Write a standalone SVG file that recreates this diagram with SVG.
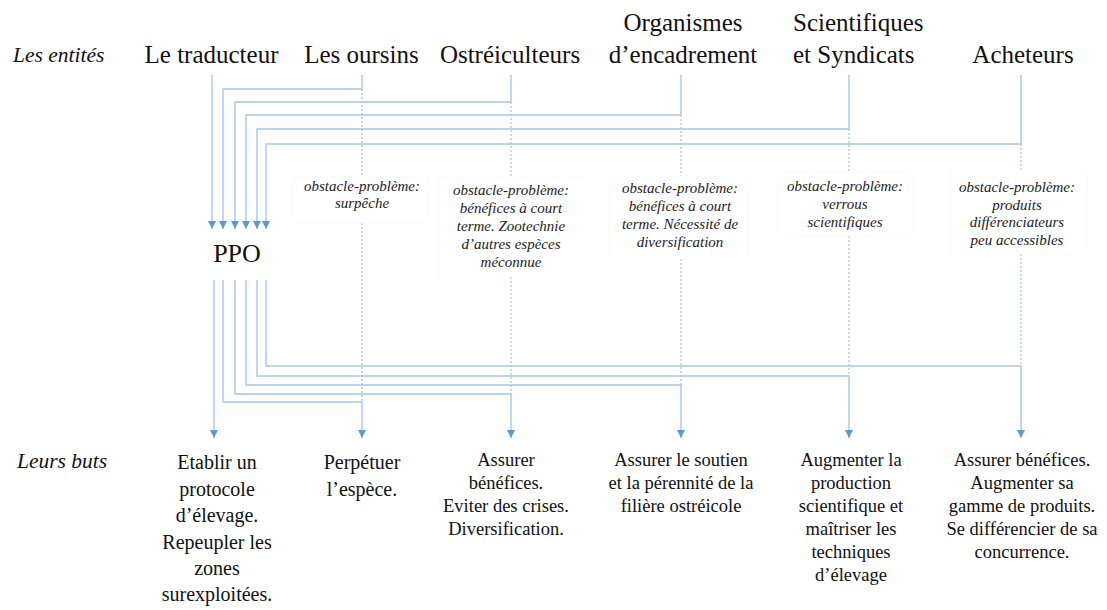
<svg xmlns="http://www.w3.org/2000/svg" width="1107" height="610" viewBox="0 0 1107 610">
<style>
text{font-family:"Liberation Serif","Times New Roman",Tinos,"DejaVu Serif",serif;}
.ent{font-size:25px;fill:#111;}
.side{font-size:21.5px;font-style:italic;fill:#111;}
.obs{font-size:15px;font-style:italic;fill:#222;text-anchor:middle;}
.goal{font-size:18.5px;fill:#111;text-anchor:middle;}
.goal1{font-size:20px;fill:#111;text-anchor:middle;}
.ln{fill:none;stroke:#a8c6ea;stroke-width:1.4;}
.dot{fill:none;stroke:#a8c6ea;stroke-width:1.3;stroke-dasharray:2 2;}
.box{fill:#fff;stroke:#fafafa;stroke-width:1;}
</style>
<defs>
<marker id="ah" viewBox="0 0 8 8" refX="8" refY="4" markerWidth="8" markerHeight="8" markerUnits="userSpaceOnUse" orient="auto">
<path d="M0,0 L8,4 L0,8 z" fill="#5b9bd5"/>
</marker>
</defs>
<rect width="1107" height="610" fill="#fff"/>

<text class="side" x="13" y="62">Les entités</text>
<text class="side" x="17" y="468">Leurs buts</text>

<g id="connectors">
<path class="ln" d="M212 75 V229" marker-end="url(#ah)"/>
<path class="ln" d="M362 75 V89 H223 V229" marker-end="url(#ah)"/>
<path class="ln" d="M511 75 V102 H235 V229" marker-end="url(#ah)"/>
<path class="ln" d="M681 75 V115 H246 V229" marker-end="url(#ah)"/>
<path class="ln" d="M849 75 V129 H257 V229" marker-end="url(#ah)"/>
<path class="ln" d="M1021 75 V144 H266 V229" marker-end="url(#ah)"/>
<path class="dot" d="M362 89 V177 M362 223 V402"/>
<path class="dot" d="M511 102 V177 M511 277 V394"/>
<path class="dot" d="M681 115 V176 M681 259 V385"/>
<path class="dot" d="M849 129 V172 M849 236 V376"/>
<path class="dot" d="M1021 144 V170 M1021 254 V366"/>
<path class="ln" d="M214 280 V438" marker-end="url(#ah)"/>
<path class="ln" d="M223 280 V402 H362 V438" marker-end="url(#ah)"/>
<path class="ln" d="M235 280 V394 H511 V438" marker-end="url(#ah)"/>
<path class="ln" d="M246 280 V385 H681 V438" marker-end="url(#ah)"/>
<path class="ln" d="M257 280 V376 H849 V438" marker-end="url(#ah)"/>
<path class="ln" d="M266 280 V366 H1021 V438" marker-end="url(#ah)"/>
</g>

<g id="traducteur"><text class="ent" x="211.5" y="63" text-anchor="middle">Le traducteur</text></g>
<g id="oursins"><text class="ent" x="361.5" y="63" text-anchor="middle">Les oursins</text></g>
<g id="ostreiculteurs"><text class="ent" x="510" y="63" text-anchor="middle">Ostréiculteurs</text></g>
<g id="organismes"><text class="ent" x="683" y="31" text-anchor="middle">Organismes</text><text class="ent" x="683" y="63" text-anchor="middle">d’encadrement</text></g>
<g id="scientifiques"><text class="ent" x="793" y="31">Scientifiques</text><text class="ent" x="793" y="63">et Syndicats</text></g>
<g id="acheteurs"><text class="ent" x="1023" y="63" text-anchor="middle">Acheteurs</text></g>

<g id="ppo"><text class="ent" x="237" y="262" text-anchor="middle" style="font-size:26px">PPO</text></g>

<g id="obs-oursins">
<rect class="box" x="293" y="177" width="136" height="46"/>
<text class="obs" x="362" y="191">obstacle-problème:</text>
<text class="obs" x="362" y="208">surpêche</text>
</g>
<g id="obs-ostreiculteurs">
<rect class="box" x="438" y="177" width="146" height="100"/>
<text class="obs" x="511" y="195">obstacle-problème:</text>
<text class="obs" x="511" y="213">bénéfices à court</text>
<text class="obs" x="511" y="231">terme. Zootechnie</text>
<text class="obs" x="511" y="249">d’autres espèces</text>
<text class="obs" x="511" y="267">méconnue</text>
</g>
<g id="obs-organismes">
<rect class="box" x="609" y="176" width="140" height="83"/>
<text class="obs" x="680" y="193">obstacle-problème:</text>
<text class="obs" x="680" y="211">bénéfices à court</text>
<text class="obs" x="680" y="229">terme. Nécessité de</text>
<text class="obs" x="680" y="247">diversification</text>
</g>
<g id="obs-scientifiques">
<rect class="box" x="778" y="172" width="136" height="64"/>
<text class="obs" x="845" y="191">obstacle-problème:</text>
<text class="obs" x="845" y="209">verrous</text>
<text class="obs" x="845" y="227">scientifiques</text>
</g>
<g id="obs-acheteurs">
<rect class="box" x="950" y="170" width="137" height="84"/>
<text class="obs" x="1017" y="192">obstacle-problème:</text>
<text class="obs" x="1017" y="210">produits</text>
<text class="obs" x="1017" y="227">différenciateurs</text>
<text class="obs" x="1017" y="245">peu accessibles</text>
</g>

<g id="but-traducteur">
<text class="goal1" x="217" y="469">Etablir un</text>
<text class="goal1" x="217" y="495.5">protocole</text>
<text class="goal1" x="217" y="522">d’élevage.</text>
<text class="goal1" x="217" y="548.5">Repeupler les</text>
<text class="goal1" x="217" y="575">zones</text>
<text class="goal1" x="217" y="601">surexploitées.</text>
</g>
<g id="but-oursins">
<text class="goal1" x="362" y="469">Perpétuer</text>
<text class="goal1" x="362" y="495.5">l’espèce.</text>
</g>
<g id="but-ostreiculteurs">
<text class="goal" x="506" y="466">Assurer</text>
<text class="goal" x="506" y="489">bénéfices.</text>
<text class="goal" x="506" y="512">Eviter des crises.</text>
<text class="goal" x="506" y="535">Diversification.</text>
</g>
<g id="but-organismes">
<text class="goal" x="681" y="466">Assurer le soutien</text>
<text class="goal" x="681" y="489">et la pérennité de la</text>
<text class="goal" x="681" y="512">filière ostréicole</text>
</g>
<g id="but-scientifiques">
<text class="goal" x="851" y="466">Augmenter la</text>
<text class="goal" x="851" y="489">production</text>
<text class="goal" x="851" y="512">scientifique et</text>
<text class="goal" x="851" y="535">maîtriser les</text>
<text class="goal" x="851" y="558">techniques</text>
<text class="goal" x="851" y="581">d’élevage</text>
</g>
<g id="but-acheteurs">
<text class="goal" x="1022" y="466">Assurer bénéfices.</text>
<text class="goal" x="1022" y="489">Augmenter sa</text>
<text class="goal" x="1022" y="512">gamme de produits.</text>
<text class="goal" x="1022" y="535">Se différencier de sa</text>
<text class="goal" x="1022" y="558">concurrence.</text>
</g>
</svg>
